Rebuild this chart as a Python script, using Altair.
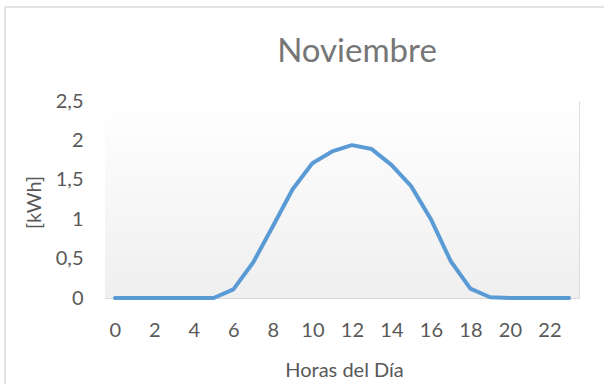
import altair as alt
import pandas as pd

# Hourly energy for November (kWh)
hours = list(range(24))
energy = [0, 0, 0, 0, 0, 0, 0.11, 0.45, 0.91, 1.38, 1.71, 1.86,
          1.94, 1.89, 1.69, 1.42, 1.0, 0.47, 0.12, 0.01, 0, 0, 0, 0]
x_ticks = list(range(0, 24, 2))
y_ticks = [0, 0.5, 1, 1.5, 2, 2.5]
title_text = ["Noviembre"]

df = pd.DataFrame({"hora": hours, "kwh": energy})
bg = pd.DataFrame({"hora": [-0.5], "hora_fin": [23.5], "kwh": [0.0], "kwh_fin": [2.5]})
ttl = pd.DataFrame({"t": title_text})

W, H = 474, 197
FONT = "Lato"
GREY = "#595959"
GRID = "#d9d9d9"

x_scale = alt.Scale(domain=[-0.5, 23.5], nice=False, zero=False)
y_scale = alt.Scale(domain=[0, 2.5], nice=False)

x_axis = alt.Axis(
    values=x_ticks, title="Horas del Día", grid=False, domain=False,
    ticks=False, labelPadding=22, labelFontSize=20, labelFont=FONT,
    labelColor=GREY, titleFont=FONT, titleFontSize=20,
    titleFontWeight="normal", titleColor=GREY,
    titleX=239, titleY=78, titleBaseline="alphabetic",
)
y_axis = alt.Axis(
    values=y_ticks, title="[kWh]", grid=True, gridColor=GRID,
    gridWidth=1, domain=False, ticks=False, labelPadding=22,
    labelFontSize=20, labelFont=FONT, labelColor=GREY,
    labelExpr="replace(format(datum.value, '~g'), '.', ',')",
    titleFont=FONT, titleFontSize=20, titleFontWeight="normal",
    titleColor=GREY, titleX=-65, titleY=101,
    titleBaseline="alphabetic", titleAlign="center",
)

# soft vertical gradient behind the plot area
background = alt.Chart(bg).mark_rect(
    fill=alt.Gradient(
        gradient="linear",
        stops=[alt.GradientStop(color="#ffffff", offset=0),
               alt.GradientStop(color="#efefef", offset=1)],
        x1=0, x2=0, y1=0, y2=1,
    ),
    strokeWidth=0,
).encode(
    x=alt.X("hora:Q", scale=x_scale, axis=x_axis),
    x2="hora_fin:Q",
    y=alt.Y("kwh:Q", scale=y_scale, axis=y_axis),
    y2="kwh_fin:Q",
)

line = alt.Chart(df).mark_line(
    color="#5b9bd5", strokeWidth=4, strokeCap="round", strokeJoin="round"
).encode(
    x=alt.X("hora:Q", scale=x_scale, axis=x_axis),
    y=alt.Y("kwh:Q", scale=y_scale, axis=y_axis),
)

# chart title, centred over the chart area
title = alt.Chart(ttl).mark_text(
    font=FONT, fontSize=33, fontWeight="normal", color="#767676",
    align="center", baseline="alphabetic",
).encode(text="t:N", x=alt.value(252), y=alt.value(-39))

# chart-area frame lines (top and left edges)
frame_top = alt.Chart(ttl).mark_rule(color=GRID, strokeWidth=1.5).encode(
    x=alt.value(-100), x2=alt.value(W + 40), y=alt.value(-94)
)
frame_left = alt.Chart(ttl).mark_rule(color=GRID, strokeWidth=1.5).encode(
    x=alt.value(-100), y=alt.value(-94), y2=alt.value(H + 100)
)

chart = alt.layer(background, line, title, frame_top, frame_left).properties(
    width=W,
    height=H,
    padding={"left": 105, "top": 101, "right": 25, "bottom": 86},
    autosize=alt.AutoSizeParams(type="none"),
).configure_view(stroke=None).configure(background="white")

chart.save("out.html", embed_options={"renderer": "svg", "actions": False})
